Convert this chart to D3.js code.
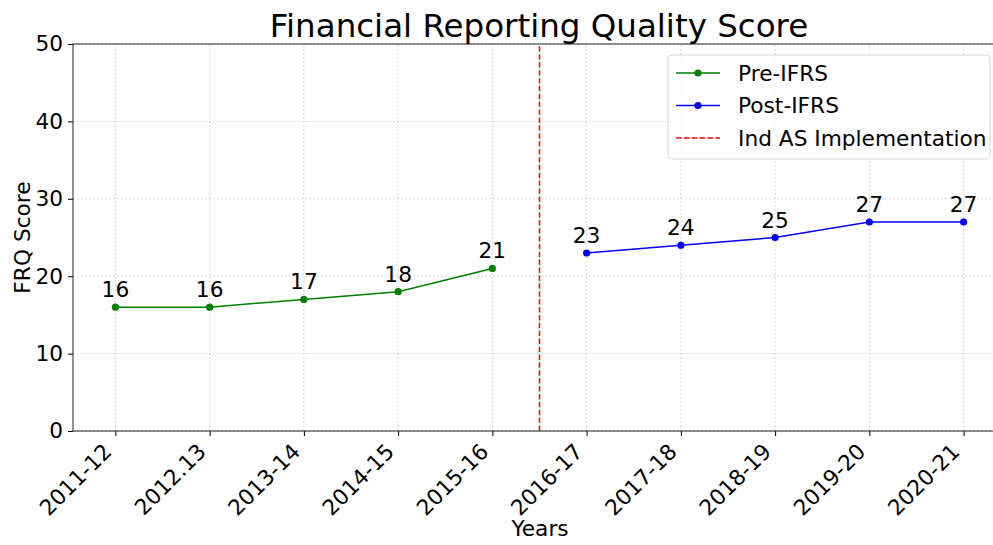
<!DOCTYPE html>
<html>
<head>
<meta charset="utf-8">
<script src="https://cdn.jsdelivr.net/npm/d3@7"></script>
<style>
  body { margin: 0; background: #fff; }
  svg { font-family: "DejaVu Sans", sans-serif; display: block; }
</style>
</head>
<body>
<div id="viz"></div>
<script>
const years = ['2011-12', '2012.13', '2013-14', '2014-15', '2015-16',
  '2016-17', '2017-18', '2018-19', '2019-20', '2020-21'];
const preYears = ['2011-12', '2012.13', '2013-14', '2014-15', '2015-16'];
const preScores = [16, 16, 17, 18, 21];
const postYears = ['2016-17', '2017-18', '2018-19', '2019-20', '2020-21'];
const postScores = [23, 24, 25, 27, 27];
const yTicks = [0, 10, 20, 30, 40, 50];
const cutoff = 4.5; // between 2015-16 and 2016-17

const width = 993;
const height = 545;
const margin = { top: 44, right: -13, bottom: 114, left: 73 };
const fs = 21.7;

const svg = d3.select('#viz').append('svg')
  .attr('width', width)
  .attr('height', height);

const x = d3.scaleLinear()
  .domain([-0.45, years.length - 1 + 0.45])
  .range([margin.left, width - margin.right]);

const y = d3.scaleLinear()
  .domain([0, 50])
  .range([height - margin.bottom, margin.top]);

const idx = d => years.indexOf(d);

const g = svg.append('g');

// grid
g.selectAll('line.vgrid')
  .data(years)
  .enter().append('line')
  .attr('x1', d => x(idx(d))).attr('x2', d => x(idx(d)))
  .attr('y1', y(0)).attr('y2', y(50))
  .attr('stroke', '#b0b0b0').attr('stroke-width', 0.7)
  .attr('stroke-dasharray', '2,2').attr('opacity', 0.7);

g.selectAll('line.hgrid')
  .data(yTicks)
  .enter().append('line')
  .attr('x1', x.range()[0]).attr('x2', x.range()[1])
  .attr('y1', d => y(d)).attr('y2', d => y(d))
  .attr('stroke', '#b0b0b0').attr('stroke-width', 0.7)
  .attr('stroke-dasharray', '2,2').attr('opacity', 0.7);

// axes
const xAxis = d3.axisBottom(x)
  .tickValues(d3.range(years.length))
  .tickFormat(i => years[i])
  .tickSizeOuter(0)
  .tickSize(5);

const xg = svg.append('g')
  .attr('transform', `translate(0,${y(0)})`)
  .call(xAxis);
xg.select('.domain').remove();
xg.selectAll('line').attr('stroke', '#000');
xg.selectAll('text')
  .attr('font-family', '"DejaVu Sans", sans-serif')
  .attr('font-size', fs)
  .attr('fill', '#000')
  .attr('text-anchor', 'end')
  .attr('x', 0).attr('y', 0).attr('dy', 0)
  .attr('transform', 'translate(-3,22) rotate(-45)');

const yAxis = d3.axisLeft(y)
  .tickValues(yTicks)
  .tickSizeOuter(0)
  .tickSize(5)
  .tickPadding(5);

const yg = svg.append('g')
  .attr('transform', `translate(${margin.left},0)`)
  .call(yAxis);
yg.select('.domain').remove();
yg.selectAll('line').attr('stroke', '#000');
yg.selectAll('text')
  .attr('font-family', '"DejaVu Sans", sans-serif')
  .attr('font-size', fs)
  .attr('fill', '#000');

// frame
svg.append('rect')
  .attr('x', x.range()[0]).attr('y', y(50))
  .attr('width', x.range()[1] - x.range()[0])
  .attr('height', y(0) - y(50))
  .attr('fill', 'none')
  .attr('stroke', '#222')
  .attr('stroke-width', 1);

// cutoff line
g.append('line')
  .attr('x1', x(cutoff)).attr('x2', x(cutoff))
  .attr('y1', y(0)).attr('y2', y(50))
  .attr('stroke', 'red')
  .attr('stroke-width', 1.5)
  .attr('stroke-dasharray', '5.5,2.4');

const line = d3.line()
  .x(d => x(idx(d.year)))
  .y(d => y(d.score));

const series = [
  { name: 'Pre-IFRS', color: 'green', values: preYears.map((yr, i) => ({ year: yr, score: preScores[i] })) },
  { name: 'Post-IFRS', color: 'blue', values: postYears.map((yr, i) => ({ year: yr, score: postScores[i] })) },
];

series.forEach((s) => {
  g.append('path')
    .datum(s.values)
    .attr('fill', 'none')
    .attr('stroke', s.color)
    .attr('stroke-width', 1.5)
    .attr('d', line);

  g.selectAll(null)
    .data(s.values)
    .enter().append('circle')
    .attr('cx', d => x(idx(d.year)))
    .attr('cy', d => y(d.score))
    .attr('r', 3.6)
    .attr('fill', s.color);

  g.selectAll(null)
    .data(s.values)
    .enter().append('text')
    .attr('x', d => x(idx(d.year)))
    .attr('y', d => y(d.score) - 10)
    .attr('text-anchor', 'middle')
    .attr('font-size', fs)
    .attr('fill', '#000')
    .text(d => d.score);
});

// title and labels
svg.append('text')
  .attr('x', 539).attr('y', 37)
  .attr('text-anchor', 'middle')
  .attr('font-size', 32.5)
  .text('Financial Reporting Quality Score');

svg.append('text')
  .attr('x', 540).attr('y', 536)
  .attr('text-anchor', 'middle')
  .attr('font-size', fs)
  .text('Years');

svg.append('text')
  .attr('transform', `translate(30,${(y(0) + y(50)) / 2}) rotate(-90)`)
  .attr('text-anchor', 'middle')
  .attr('font-size', fs)
  .text('FRQ Score');

// legend
const legend = svg.append('g').attr('transform', 'translate(668,55)');
legend.append('rect')
  .attr('width', 322).attr('height', 104)
  .attr('rx', 4)
  .attr('fill', 'rgba(255,255,255,0.8)')
  .attr('stroke', '#d6d6d6');

const legendItems = [
  { name: 'Pre-IFRS', color: 'green', marker: true, dash: null },
  { name: 'Post-IFRS', color: 'blue', marker: true, dash: null },
  { name: 'Ind AS Implementation', color: 'red', marker: false, dash: '5.5,2.4' },
];

legendItems.forEach((d, i) => {
  const row = legend.append('g').attr('transform', `translate(0,${18 + i * 32.5})`);
  row.append('line')
    .attr('x1', 8).attr('x2', 52)
    .attr('stroke', d.color).attr('stroke-width', 1.5)
    .attr('stroke-dasharray', d.dash);
  if (d.marker) {
    row.append('circle').attr('cx', 30).attr('r', 3.6).attr('fill', d.color);
  }
  row.append('text')
    .attr('x', 70).attr('dy', '0.35em')
    .attr('font-size', fs)
    .text(d.name);
});
</script>
</body>
</html>
